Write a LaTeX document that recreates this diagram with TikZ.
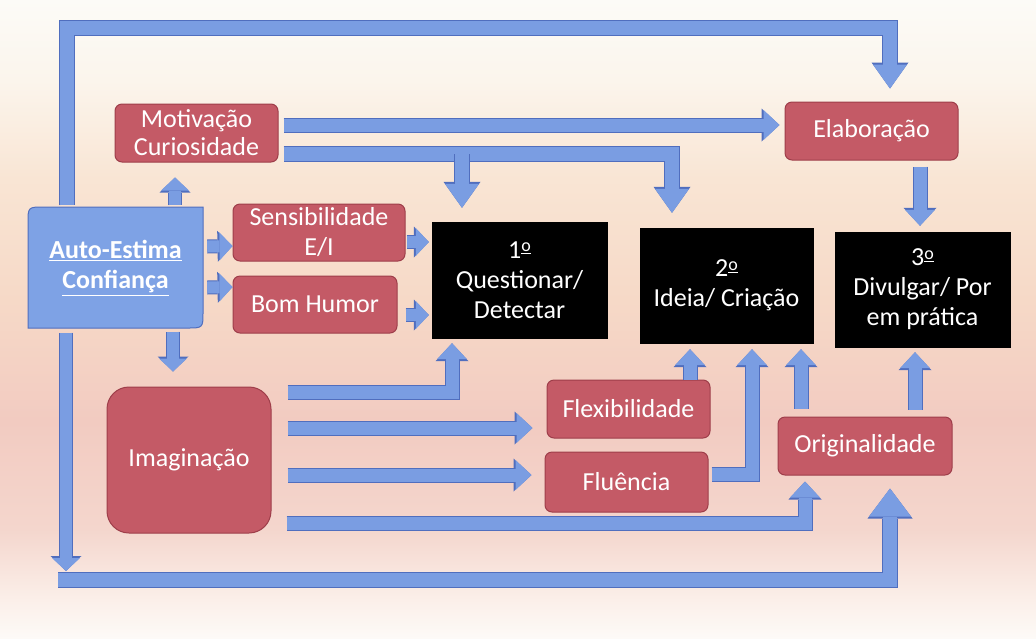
\documentclass[tikz,border=0pt]{standalone}
\usepackage{fontspec}
\setmainfont{Carlito}
\usetikzlibrary{arrows.meta,calc}
\definecolor{rfill}{RGB}{196,90,102}
\definecolor{rdraw}{RGB}{158,62,74}
\definecolor{ablue}{RGB}{122,157,226}
\definecolor{adark}{RGB}{80,110,190}
\definecolor{aebox}{RGB}{126,162,229}
\definecolor{bgA}{RGB}{252,251,247}
\definecolor{bgB}{RGB}{251,245,236}
\definecolor{bgC}{RGB}{249,229,212}
\definecolor{bgD}{RGB}{246,217,199}
\definecolor{bgE}{RGB}{242,203,193}
\definecolor{bgF}{RGB}{244,214,205}
\definecolor{bgG}{RGB}{251,239,233}
\definecolor{bgH}{RGB}{253,250,247}
\pgfdeclareverticalshading{bgsh}{100bp}{color(0bp)=(bgH); color(25bp)=(bgH); color(28bp)=(bgG); color(33.5bp)=(bgF); color(42bp)=(bgE); color(51.5bp)=(bgD); color(61bp)=(bgC); color(68.7bp)=(bgB); color(75bp)=(bgA); color(100bp)=(bgA)}
\newcommand\myfs{\fontsize{26}{30}\selectfont}
\newcommand\motfs{\fontsize{26}{28}\selectfont}
\newcommand\ordo{\raisebox{6.5pt}{\fontsize{18}{18}\selectfont\underline{o}}}
\newcommand\BA[3][mid]{\draw[#1out,#2] #3; \draw[#1in,#2] #3;}
\begin{document}
\begin{tikzpicture}[x=1pt,y=-1pt,
  rbox/.style={rounded corners=7pt, fill=rfill, draw=rdraw, line width=1pt, text=white, align=center, inner sep=0pt, font=\myfs},
  bbox/.style={fill=black, draw=black, text=white, align=center, inner sep=0pt, font=\myfs},
  smallin/.style={draw=ablue, line width=12pt, line join=miter, -{Triangle[width=28pt,length=13pt,line width=0pt]}},
  smallout/.style={draw=adark, line width=14pt, line join=miter, -{Triangle[width=31pt,length=15pt,line width=0pt]}},
  midin/.style={draw=ablue, line width=13pt, line join=miter, -{Triangle[width=30pt,length=16pt,line width=0pt]}},
  midout/.style={draw=adark, line width=15pt, line join=miter, -{Triangle[width=33pt,length=18pt,line width=0pt]}},
  bigin/.style={draw=ablue, line width=14pt, line join=miter, -{Triangle[width=34pt,length=24pt,line width=0pt]}},
  bigout/.style={draw=adark, line width=16pt, line join=miter, -{Triangle[width=37pt,length=26pt,line width=0pt]}},
  hugein/.style={draw=ablue, line width=14pt, line join=miter, -{Triangle[width=42pt,length=28pt,line width=0pt]}},
  hugeout/.style={draw=adark, line width=16pt, line join=miter, -{Triangle[width=45pt,length=30pt,line width=0pt]}}
]
\useasboundingbox (0,0) rectangle (1036,638);
\shade[shading=bgsh] (0,0) rectangle (1036,638);

% Auto-Estima box shape
\filldraw[fill=aebox, draw=adark, line width=1pt] (28,328) -- (28,223) .. controls (28,207) .. (44,207) -- (203,207) -- (203,312) .. controls (203,328) .. (187,328) -- cycle;
\node[text=white, align=center, inner sep=0pt, font=\myfs\bfseries, minimum width=175pt, minimum height=121pt] (ae) at (115.5,268) {\underline{Auto-Estima}\\\underline{Confiança}};

% boxes
\node[rbox, font=\motfs, minimum width=163pt, minimum height=58pt] (mot) at (196.5,133) {Motivação\\Curiosidade};
\node[rbox, minimum width=172pt, minimum height=57pt] (sens) at (319,232.5) {Sensibilidade\\E/I};
\node[rbox, minimum width=164pt, minimum height=57pt] (bom) at (315,304.5) {Bom Humor};
\node[rbox, minimum width=173pt, minimum height=58pt] (elab) at (871.5,131) {Elaboração};
\node[bbox, minimum width=175pt, minimum height=116pt] (q) at (519.5,280) {1\ordo\\Questionar/\\Detectar};
\node[bbox, minimum width=173pt, minimum height=115pt] (idea) at (726.5,285.5) {2\ordo\\Ideia/ Criação};
\node[bbox, minimum width=175pt, minimum height=115pt] (div) at (922.5,289.5) {3\ordo\\Divulgar/ Por\\em prática};
\node[rbox, rounded corners=22pt, minimum width=164pt, minimum height=146pt] (imag) at (189,460) {Imaginação};
\node[rbox, minimum width=163pt, minimum height=58pt] (flex) at (628.5,409) {Flexibilidade};
\node[rbox, minimum width=163pt, minimum height=60pt] (flu) at (626.5,482) {Fluência};
\node[rbox, minimum width=174pt, minimum height=58pt] (orig) at (865,446) {Originalidade};

% coordinates for free ends and corners
\coordinate (tl) at (67,28);
\coordinate (tr) at (890,28);
\coordinate (br3) at (462,154);
\coordinate (dl) at (66,571);
\coordinate (bl) at (58,580);
\coordinate (brc) at (890,580);

% long top arrow: Auto-Estima -> Elaboracao
\BA[big]{shorten <=2pt, shorten >=13pt}{(ae.north -| tl) -- (tl) -- (tr) -- (elab.north -| tr)}
% Motivacao -> Elaboracao
\BA{}{($(mot.east)+(5,-8)$) -- ($(elab.west)+(-5,-6)$)}
% Motivacao -> Ideia, and branch -> Questionar
\BA[big]{shorten >=15pt}{($(mot.east)+(5,21)$) -| ($(idea.north)+(-54.5,0)$)}
\BA[big]{shorten >=14pt}{(br3) -- (q.north -| br3)}
% small arrows from Auto-Estima
\BA[small]{}{($(ae.north)+(59.5,-2)$) -- ($(mot.south)+(-21.5,15)$)}
\BA[small]{}{($(ae.east)+(4,-21.5)$) -- ($(sens.west)+(0,13.5)$)}
\BA[small]{}{($(ae.east)+(4,19.5)$) -- ($(bom.west)+(0,-17.5)$)}
\BA[small]{}{($(ae.south)+(57.5,3)$) -- ($(imag.north)+(-16,-15)$)}
% into Questionar
\BA[small]{}{($(sens.east)+(1,9.5)$) -- ($(q.west)+(-3,-38)$)}
\BA[small]{}{($(bom.east)+(8,10.5)$) -- ($(q.west)+(-3,35)$)}
% left down and bottom arrow
\BA[small]{}{($(ae.south)+(-49.5,4)$) -- (dl)}
\BA[huge]{}{(bl) -- (brc) -- ($(orig.south)+(25,13)$)}
% from Imaginacao
\BA{}{($(imag.east)+(16,-68)$) -| ($(q.south)+(-67.5,5)$)}
\BA{}{($(imag.east)+(16,-32)$) -- ($(flex.west)+(-14,19)$)}
\BA{}{($(imag.east)+(16,15)$) -- ($(flu.west)+(-13,-7)$)}
\BA{}{($(imag.east)+(15,63)$) -| ($(orig.south)+(-60,6)$)}
% into Ideia / Divulgar
\BA{}{($(flex.north)+(61.5,0)$) -- ($(idea.south)+(-36.5,6)$)}
\BA{}{($(flu.east)+(3,-8)$) -| ($(idea.south)+(25.5,6)$)}
\BA{}{($(orig.north)+(-64,-8)$) -- ($(idea.south)+(74.5,6)$)}
\BA{}{($(orig.north)+(50,-7)$) -- ($(div.south)+(-7.5,5)$)}
\BA{}{($(elab.south)+(48.5,6)$) -- ($(div.north)+(-2.5,-6)$)}
\end{tikzpicture}
\end{document}
